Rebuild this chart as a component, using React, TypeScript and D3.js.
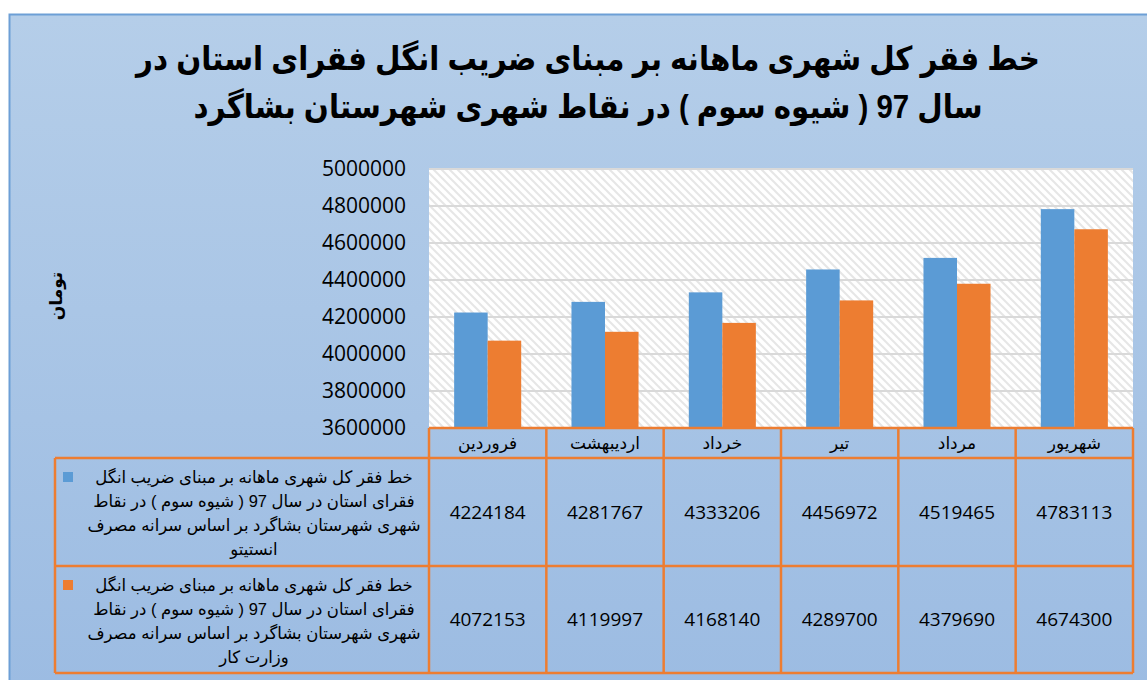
import React from "react";
import * as d3 from "d3";

const categories = ["فروردین", "اردیبهشت", "خرداد", "تیر", "مرداد", "شهریور"];
const seriesInstitute = [4224184, 4281767, 4333206, 4456972, 4519465, 4783113];
const seriesMinistry = [4072153, 4119997, 4168140, 4289700, 4379690, 4674300];
const yTicks = [3600000, 3800000, 4000000, 4200000, 4400000, 4600000, 4800000, 5000000];
const titleLines = [
  "خط فقر کل شهری ماهانه  بر مبنای ضریب انگل فقرای استان در",
  "سال 97 ( شیوه سوم ) در نقاط شهری شهرستان بشاگرد",
];
const legendInstitute = [
  "خط فقر کل شهری ماهانه  بر مبنای ضریب انگل",
  "فقرای استان در سال 97 ( شیوه سوم ) در نقاط",
  "شهری شهرستان بشاگرد بر اساس سرانه مصرف",
  "انستیتو",
];
const legendMinistry = [
  "خط فقر کل شهری ماهانه  بر مبنای ضریب انگل",
  "فقرای استان در سال 97 ( شیوه سوم )  در نقاط",
  "شهری شهرستان بشاگرد بر اساس سرانه مصرف",
  "وزارت کار",
];
const yTitle = "تومان";

const BLUE = "#5b9bd5";
const ORANGE = "#ed7d31";
const ARFONT = "Arial, 'Liberation Sans', 'DejaVu Sans', sans-serif";
const NUMFONT = "'Open Sans', 'DejaVu Sans', sans-serif";

export default function App() {
  const W = 1147, H = 680;
  const plotL = 429, plotR = 1133, plotT = 169, plotB = 428;
  const y = d3.scaleLinear().domain([3600000, 5000000]).range([plotB, plotT]);
  const x = d3.scaleBand<string>().domain(categories).range([plotL, plotR]).padding(0);
  const bw = x.bandwidth() / 3.5;
  const series = [
    { values: seriesInstitute, color: BLUE, legend: legendInstitute },
    { values: seriesMinistry, color: ORANGE, legend: legendMinistry },
  ];
  const tableL = 55;
  const rowY = [428, 458, 566, 673];

  return (
    <svg width={W} height={H} style={{ position: "absolute", left: 0, top: 0 }}>
      <defs>
        <linearGradient id="bg" x1="0" y1="0" x2="0" y2="1">
          <stop offset="0" stopColor="#b5cee9" />
          <stop offset="1" stopColor="#9bbbe2" />
        </linearGradient>
        <pattern id="hatch" patternUnits="userSpaceOnUse" width="8" height="8">
          <rect width="8" height="8" fill="#ffffff" />
          <path d="M-2,-2 L10,10 M-2,6 L2,10 M6,-2 L10,2" stroke="#e6e6e6" strokeWidth="2" />
        </pattern>
      </defs>
      <rect x={9.5} y={14.5} width={1180} height={700} fill="url(#bg)" stroke="#6d9fd6" strokeWidth={2} />

      {/* title */}
      {titleLines.map((t, i) => (
        <text key={i} transform={`translate(588,${70 + i * 48}) scale(0.89,1)`} textAnchor="middle" direction="rtl"
          fontFamily={ARFONT} fontWeight="bold" fontSize={33} fill="#000">{t}</text>
      ))}

      {/* y axis title */}
      <text transform="translate(62,296) rotate(-90)" textAnchor="middle" direction="rtl"
        fontFamily={ARFONT} fontWeight="bold" fontSize={17} fill="#000">{yTitle}</text>

      {/* plot area */}
      <rect x={plotL} y={plotT} width={plotR - plotL} height={plotB - plotT} fill="url(#hatch)" />
      {yTicks.filter((t) => t > 3600000).map((t) => (
        <line key={t} x1={plotL} x2={plotR} y1={y(t)} y2={y(t)} stroke="#d9d9d9" strokeWidth={2} />
      ))}
      {yTicks.map((t) => (
        <text key={t} x={406} y={y(t)} dy="0.35em" textAnchor="end" fontFamily={NUMFONT}
          fontSize={21} fill="#000">{t}</text>
      ))}

      {/* bars */}
      {series.map((s, si) =>
        s.values.map((v, i) => (
          <rect key={si + "-" + i} x={(x(categories[i]) as number) + bw * 0.75 + si * bw} y={y(v)}
            width={bw} height={plotB - y(v)} fill={s.color} />
        ))
      )}

      {/* data table */}
      {categories.map((c) => (
        <text key={c} x={(x(c) as number) + x.bandwidth() / 2} y={443} dy="0.35em" textAnchor="middle"
          direction="rtl" fontFamily={ARFONT} fontSize={17} fill="#000">{c}</text>
      ))}
      {series.map((s, si) => {
        const top = rowY[si + 1], bot = rowY[si + 2];
        const mid = (top + bot) / 2;
        return (
          <g key={si}>
            {s.values.map((v, i) => (
              <text key={i} x={(x(categories[i]) as number) + x.bandwidth() / 2} y={mid} dy="0.35em"
                textAnchor="middle" fontFamily={NUMFONT} fontSize={19} fill="#000">{v}</text>
            ))}
            <rect x={63} y={top + 14} width={10} height={10} fill={s.color} />
            {s.legend.map((l, li) => (
              <text key={li} transform={`translate(254,${top + 19 + li * 24}) scale(0.97,1)`} dy="0.35em"
                textAnchor="middle" direction="rtl"
                fontFamily={ARFONT} fontSize={17} fill="#000">{l}</text>
            ))}
          </g>
        );
      })}
      <g stroke={ORANGE} strokeWidth={2.5} fill="none">
        <line x1={plotL} x2={plotR} y1={rowY[0]} y2={rowY[0]} />
        {rowY.slice(1).map((r) => (
          <line key={r} x1={tableL} x2={plotR} y1={r} y2={r} />
        ))}
        <line x1={tableL} x2={tableL} y1={rowY[1]} y2={rowY[3]} />
        {categories.map((c) => (
          <line key={c} x1={x(c)} x2={x(c)} y1={rowY[0]} y2={rowY[3]} />
        ))}
        <line x1={plotR} x2={plotR} y1={rowY[0]} y2={rowY[3]} />
      </g>
    </svg>
  );
}
